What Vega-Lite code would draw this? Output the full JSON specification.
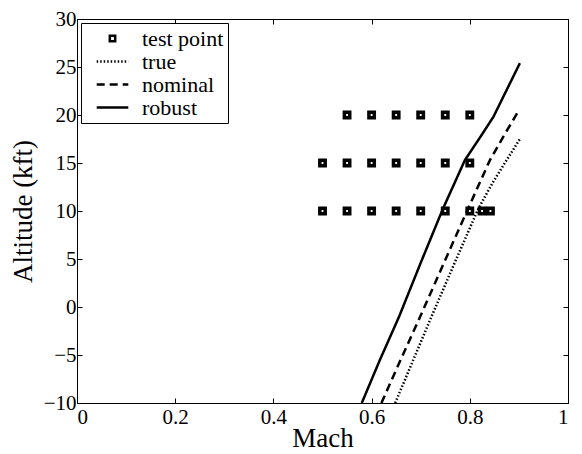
{
  "$schema": "https://vega.github.io/schema/vega-lite/v6.json",
  "width": 491,
  "height": 384,
  "autosize": {"type": "none"},
  "padding": {"left": 77, "top": 19, "right": 14, "bottom": 51},
  "background": "white",
  "config": {
    "view": {"stroke": "black", "strokeWidth": 1},
    "font": "Times New Roman",
    "style": {
      "guide-label": {"font": "Times New Roman", "fill": "black", "fontWeight": "normal"},
      "guide-title": {"font": "Times New Roman", "fill": "black", "fontWeight": "normal"}
    },
    "axis": {
      "grid": false,
      "domain": false,
      "tickColor": "black",
      "tickSize": -5,
      "tickWidth": 1,
      "labelFont": "Times New Roman",
      "labelFontSize": 21,
      "labelColor": "black",
      "titleFont": "Times New Roman",
      "titleFontSize": 27,
      "titleFontWeight": "normal",
      "titleColor": "black"
    },
    "legend": {
      "orient": "top-left",
      "offset": 4,
      "fillColor": "white",
      "strokeColor": "black",
      "padding": 4,
      "labelFont": "Times New Roman",
      "labelFontSize": 22,
      "labelColor": "black",
      "labelOffset": 12,
      "labelLimit": 0,
      "symbolStrokeColor": "black",
      "symbolStrokeWidth": 2.5,
      "symbolFillColor": "transparent",
      "symbolSize": 1000,
      "clipHeight": 23,
      "rowPadding": 0,
      "symbolOffset": 10
    }
  },
  "datasets": {
    "curves": [
      {"series": "robust", "mach": 0.580, "alt": -10},
      {"series": "robust", "mach": 0.617, "alt": -5.5},
      {"series": "robust", "mach": 0.656, "alt": -1},
      {"series": "robust", "mach": 0.700, "alt": 4.6},
      {"series": "robust", "mach": 0.745, "alt": 10.2},
      {"series": "robust", "mach": 0.790, "alt": 15.3},
      {"series": "robust", "mach": 0.820, "alt": 17.6},
      {"series": "robust", "mach": 0.848, "alt": 19.8},
      {"series": "robust", "mach": 0.875, "alt": 22.6},
      {"series": "robust", "mach": 0.902, "alt": 25.4},
      {"series": "nominal", "mach": 0.620, "alt": -10},
      {"series": "nominal", "mach": 0.660, "alt": -5.4},
      {"series": "nominal", "mach": 0.699, "alt": -1},
      {"series": "nominal", "mach": 0.750, "alt": 4.9},
      {"series": "nominal", "mach": 0.796, "alt": 10.2},
      {"series": "nominal", "mach": 0.841, "alt": 15.3},
      {"series": "nominal", "mach": 0.870, "alt": 17.9},
      {"series": "nominal", "mach": 0.899, "alt": 20.4},
      {"series": "true", "mach": 0.648, "alt": -10},
      {"series": "true", "mach": 0.685, "alt": -5.5},
      {"series": "true", "mach": 0.722, "alt": -1},
      {"series": "true", "mach": 0.770, "alt": 4.7},
      {"series": "true", "mach": 0.817, "alt": 10.2},
      {"series": "true", "mach": 0.846, "alt": 12.9},
      {"series": "true", "mach": 0.875, "alt": 15.3},
      {"series": "true", "mach": 0.902, "alt": 17.5}
    ],
    "points": [
      {"series": "test point", "mach": 0.55, "alt": 20},
      {"series": "test point", "mach": 0.60, "alt": 20},
      {"series": "test point", "mach": 0.65, "alt": 20},
      {"series": "test point", "mach": 0.70, "alt": 20},
      {"series": "test point", "mach": 0.75, "alt": 20},
      {"series": "test point", "mach": 0.80, "alt": 20},
      {"series": "test point", "mach": 0.50, "alt": 15},
      {"series": "test point", "mach": 0.55, "alt": 15},
      {"series": "test point", "mach": 0.60, "alt": 15},
      {"series": "test point", "mach": 0.65, "alt": 15},
      {"series": "test point", "mach": 0.70, "alt": 15},
      {"series": "test point", "mach": 0.75, "alt": 15},
      {"series": "test point", "mach": 0.80, "alt": 15},
      {"series": "test point", "mach": 0.50, "alt": 10},
      {"series": "test point", "mach": 0.55, "alt": 10},
      {"series": "test point", "mach": 0.60, "alt": 10},
      {"series": "test point", "mach": 0.65, "alt": 10},
      {"series": "test point", "mach": 0.70, "alt": 10},
      {"series": "test point", "mach": 0.75, "alt": 10},
      {"series": "test point", "mach": 0.80, "alt": 10},
      {"series": "test point", "mach": 0.825, "alt": 10},
      {"series": "test point", "mach": 0.842, "alt": 10}
    ]
  },
  "resolve": {"axis": {"x": "independent", "y": "independent"}},
  "layer": [
    {
      "data": {"name": "curves"},
      "mark": {"type": "line", "strokeWidth": 2.5, "color": "black", "clip": true},
      "encoding": {
        "x": {
          "field": "mach", "type": "quantitative",
          "scale": {"domain": [0, 1], "nice": false},
          "axis": {"values": [0, 0.2, 0.4, 0.6, 0.8, 1], "format": "~g", "title": "Mach", "labelFont": "Times New Roman", "labelPadding": 8, "titlePadding": -2}
        },
        "y": {
          "field": "alt", "type": "quantitative",
          "scale": {"domain": [-10, 30], "nice": false},
          "axis": {"values": [-10, -5, 0, 5, 10, 15, 20, 25, 30], "format": "d", "title": "Altitude (kft)", "labelFont": "Times New Roman", "titleFontSize": 27, "labelPadding": 6, "titlePadding": 6}
        },
        "strokeDash": {
          "field": "series", "type": "nominal",
          "scale": {"domain": ["test point", "true", "nominal", "robust"], "range": [[1, 0], [1.5, 2], [8, 5], [1, 0]]},
          "legend": {"title": null, "labelFont": "Times New Roman"}
        }
      }
    },
    {
      "data": {"name": "points"},
      "mark": {"type": "point", "filled": false, "fill": "transparent", "color": "black", "strokeWidth": 3.5, "opacity": 1, "size": 1000},
      "encoding": {
        "x": {"field": "mach", "type": "quantitative", "axis": null},
        "y": {"field": "alt", "type": "quantitative", "axis": null},
        "shape": {
          "field": "series", "type": "nominal",
          "scale": {"domain": ["test point", "true", "nominal", "robust"], "range": ["M-0.17,-0.17H0.17V0.17H-0.17Z", "M-1,0H1", "M-1,0H1", "M-1,0H1"]},
          "legend": {"title": null, "labelFont": "Times New Roman"}
        }
      }
    },
    {
      "data": {"name": "points"},
      "mark": {"type": "point", "opacity": 0},
      "encoding": {
        "x": {"field": "mach", "type": "quantitative", "axis": {"orient": "top", "values": [0, 0.2, 0.4, 0.6, 0.8, 1], "labels": false, "title": null}},
        "y": {"field": "alt", "type": "quantitative", "axis": {"orient": "right", "values": [-10, -5, 0, 5, 10, 15, 20, 25, 30], "labels": false, "title": null}}
      }
    }
  ]
}
